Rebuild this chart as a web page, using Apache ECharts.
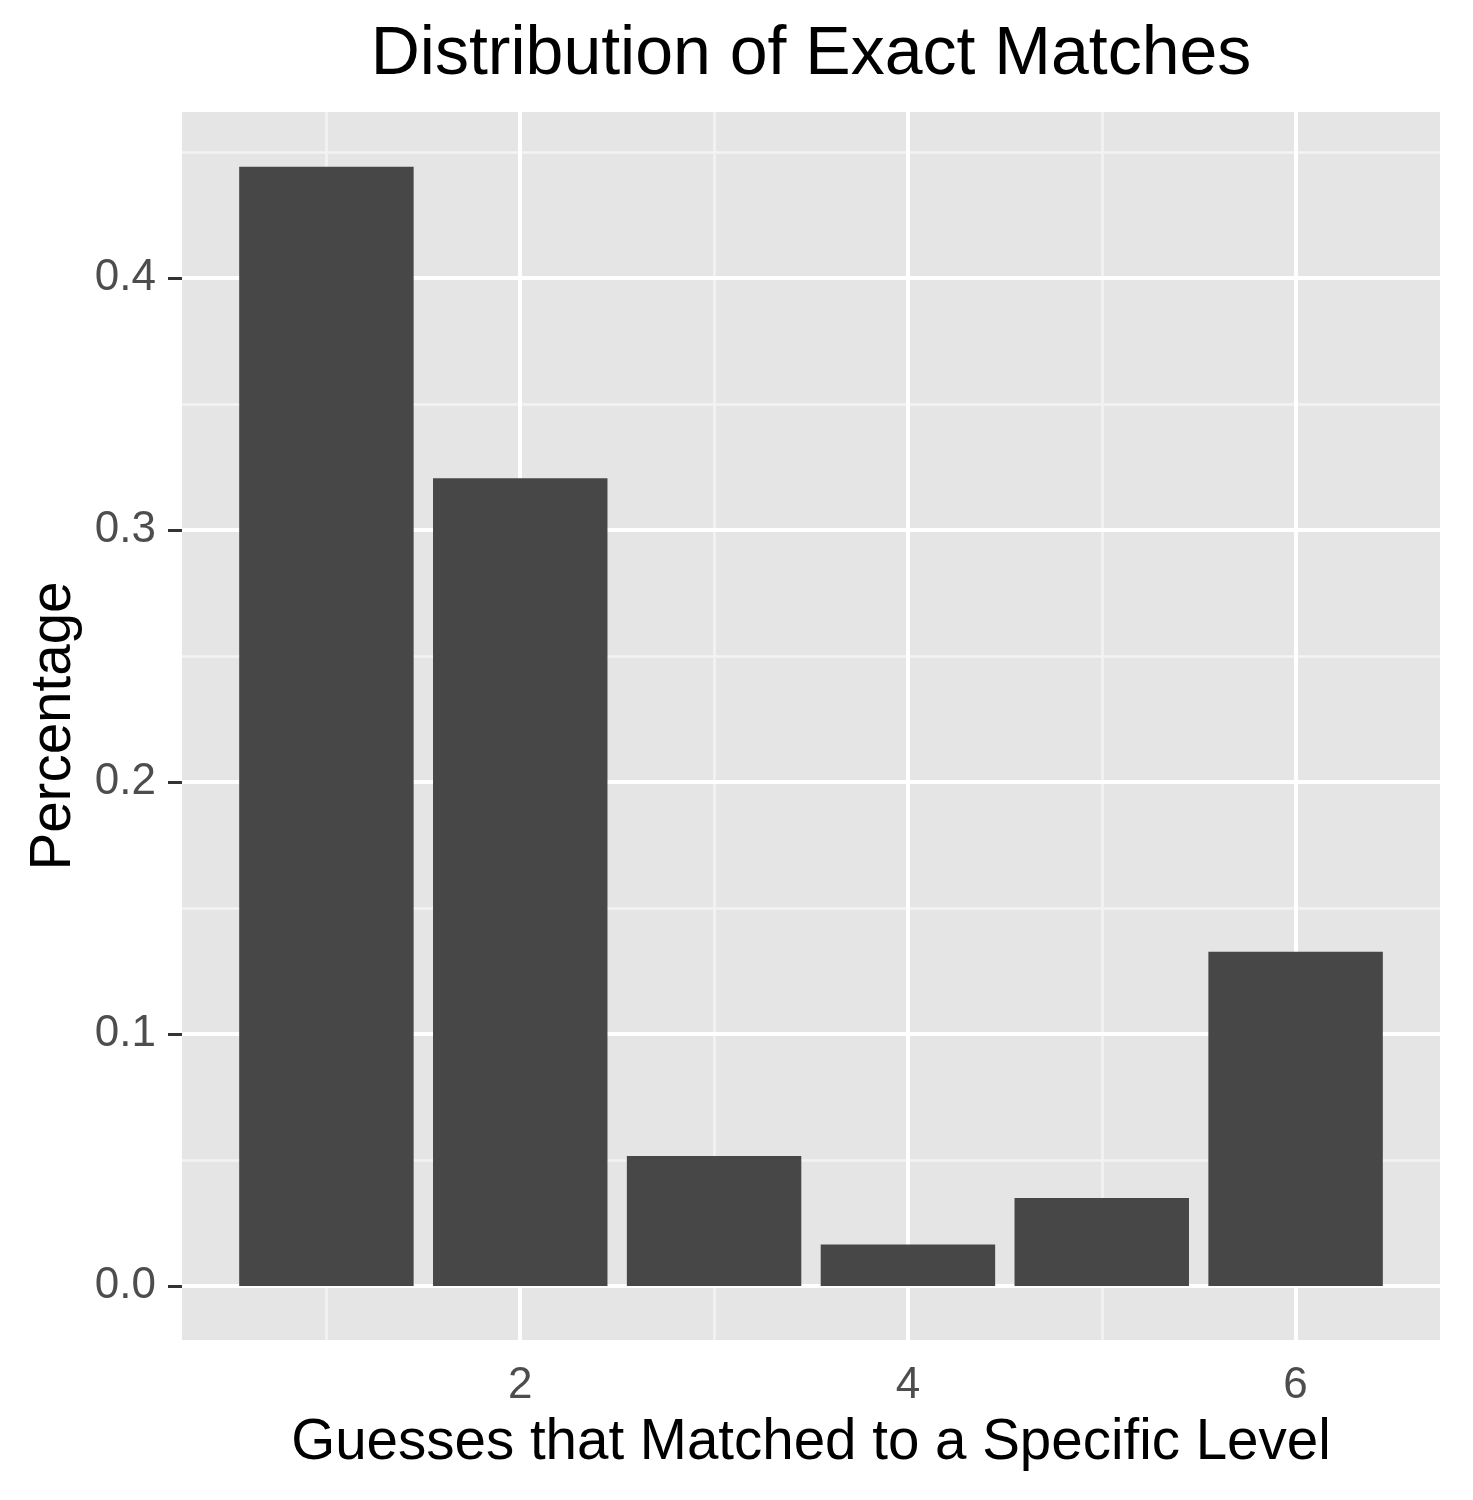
<!DOCTYPE html>
<html>
<head>
<meta charset="utf-8">
<title>Distribution of Exact Matches</title>
<script src="https://cdn.jsdelivr.net/npm/echarts@6/dist/echarts.min.js"></script>
<style>
  html, body { margin: 0; padding: 0; background: #fff; }
  #main { width: 1473px; height: 1500px; }
</style>
</head>
<body>
<div id="main"></div>
<script>
// guesses matched to a level, and share of each
const guesses = [1, 2, 3, 4, 5, 6];
const percentage = [0.4442, 0.3206, 0.0516, 0.0165, 0.0349, 0.1327];

// tick labels
const xTicks = [2, 4, 6];
const yTicks = [0, 0.1, 0.2, 0.3, 0.4];
// ggplot-style minor grid
const xMinor = [1, 3, 5];
const yMinor = [0.05, 0.15, 0.25, 0.35, 0.45];

const BAR_W = 0.9;
const FONT = '"Liberation Sans", Arial, sans-serif';

const chartDom = document.getElementById('main');
const myChart = echarts.init(chartDom);

// grid lines as markLines so the bars sit on top
const gridLines = []
  .concat(xMinor.map(v => ({ xAxis: v, lineStyle: { color: '#F3F3F3', width: 2.5 } })))
  .concat(yMinor.map(v => ({ yAxis: v, lineStyle: { color: '#F3F3F3', width: 2.5 } })))
  .concat(xTicks.map(v => ({ xAxis: v, lineStyle: { color: '#FFFFFF', width: 4 } })))
  .concat(yTicks.map(v => ({ yAxis: v, lineStyle: { color: '#FFFFFF', width: 4 } })));

const option = {
  animation: false,
  backgroundColor: '#FFFFFF',
  title: {
    text: 'Distribution of Exact Matches',
    left: 811,
    top: 21,
    padding: 0,
    textAlign: 'center',
    textStyle: { fontFamily: FONT, fontSize: 68, fontWeight: 'normal', color: '#000' },
  },
  grid: {
    left: 182,
    top: 112,
    width: 1258,
    height: 1228,
    show: true,
    backgroundColor: '#E5E5E5',
    borderWidth: 0,
  },
  xAxis: {
    type: 'value',
    min: 0.255,
    max: 6.745,
    name: 'Guesses that Matched to a Specific Level',
    nameLocation: 'middle',
    nameGap: 75,
    nameTextStyle: { fontFamily: FONT, fontSize: 56.5, color: '#000' },
    axisLine: { show: false },
    axisTick: { show: true, length: 14, customValues: xTicks, lineStyle: { color: '#333', width: 3 } },
    axisLabel: {
      customValues: xTicks,
      margin: 24,
      fontFamily: FONT,
      fontSize: 44,
      color: '#4D4D4D',
    },
    splitLine: { show: false },
  },
  yAxis: {
    type: 'value',
    min: -0.0214,
    max: 0.4659,
    name: 'Percentage',
    nameLocation: 'middle',
    nameRotate: 90,
    nameGap: 99,
    nameTextStyle: { fontFamily: FONT, fontSize: 56.5, color: '#000' },
    axisLine: { show: false },
    axisTick: { show: true, length: 14, customValues: yTicks, lineStyle: { color: '#333', width: 3 } },
    axisLabel: {
      customValues: yTicks,
      margin: 26,
      fontFamily: FONT,
      fontSize: 44,
      color: '#4D4D4D',
      formatter: v => v.toFixed(1),
    },
    splitLine: { show: false },
  },
  series: [
    {
      // carries the panel grid lines only
      type: 'line',
      data: [],
      z: 1,
      silent: true,
      markLine: {
        z: 1,
        silent: true,
        symbol: ['none', 'none'],
        label: { show: false },
        lineStyle: { type: 'solid' },
        data: gridLines,
      },
    },
    {
      type: 'custom',
      z: 3,
      data: guesses.map((g, i) => [g, percentage[i]]),
      renderItem(params, api) {
        const x = api.value(0);
        const y = api.value(1);
        const p0 = api.coord([x - BAR_W / 2, y]);
        const p1 = api.coord([x + BAR_W / 2, 0]);
        return {
          type: 'rect',
          shape: { x: p0[0], y: p0[1], width: p1[0] - p0[0], height: p1[1] - p0[1] },
          style: { fill: '#474747' },
        };
      },
    },
  ],
};

myChart.setOption(option);
</script>
</body>
</html>
